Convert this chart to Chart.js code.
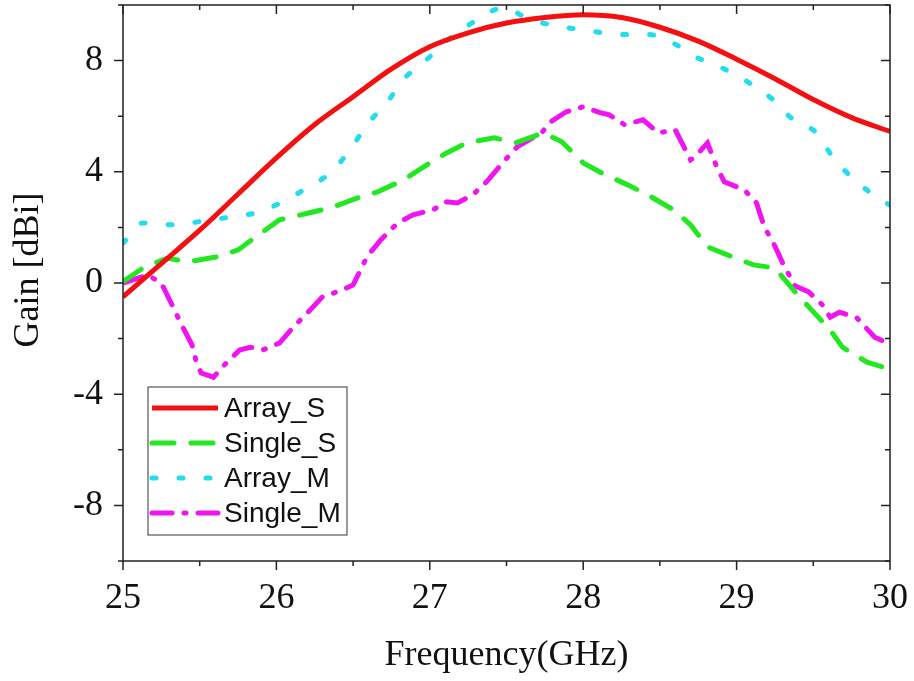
<!DOCTYPE html>
<html>
<head>
<meta charset="utf-8">
<script src="https://cdn.jsdelivr.net/npm/chart.js@4"></script>
<style>
  html, body { margin: 0; padding: 0; background: #fff; }
  #wrap { width: 914px; height: 681px; }
</style>
</head>
<body>
<div id="wrap"><canvas id="myChart" width="914" height="681"></canvas></div>
<script>
// Array_S (solid red)
const arraySFreq = [25, 25.25, 25.5, 25.75, 26, 26.25, 26.5, 26.75, 27, 27.25, 27.5, 27.75, 28, 28.25, 28.5, 28.75, 29, 29.25, 29.5, 29.75, 30];
const arraySGain = [-0.5, 0.7, 1.9, 3.2, 4.5, 5.7, 6.7, 7.7, 8.5, 9.0, 9.35, 9.55, 9.65, 9.55, 9.2, 8.7, 8.05, 7.35, 6.6, 5.95, 5.45];

// Single_S (dashed green)
const singleSFreq = [25, 25.13, 25.29, 25.42, 25.61, 25.75, 25.91, 26.02, 26.21, 26.35, 26.53, 26.66, 26.83, 26.96, 27.11, 27.24, 27.42, 27.56, 27.74, 27.86, 28.0, 28.12, 28.29, 28.42, 28.59, 28.7, 28.81, 28.94, 29.11, 29.25, 29.37, 29.47, 29.61, 29.69, 29.85, 30];
const singleSGain = [0.05, 0.54, 0.9, 0.76, 0.94, 1.19, 1.84, 2.27, 2.52, 2.7, 3.06, 3.28, 3.71, 4.18, 4.68, 5.04, 5.22, 5.04, 5.4, 5.08, 4.32, 3.96, 3.53, 3.17, 2.63, 2.09, 1.3, 1.01, 0.65, 0.54, -0.25, -0.86, -1.69, -2.31, -2.85, -3.1];

// Array_M (dotted cyan)
const arrayMFreq = [25, 25.13, 25.34, 25.52, 25.71, 25.89, 26.04, 26.2, 26.35, 26.48, 26.59, 26.72, 26.84, 26.98, 27.12, 27.29, 27.48, 27.65, 27.85, 28.03, 28.23, 28.42, 28.58, 28.73, 28.9, 29.07, 29.23, 29.37, 29.52, 29.63, 29.77, 29.92, 30];
const arrayMGain = [1.44, 2.16, 2.09, 2.23, 2.38, 2.56, 2.92, 3.42, 3.96, 4.79, 5.69, 6.49, 7.39, 8.04, 8.76, 9.4, 9.9, 9.48, 9.23, 9.08, 8.94, 8.94, 8.65, 8.14, 7.75, 7.24, 6.63, 5.87, 5.4, 4.5, 3.71, 3.06, 2.8];

// Single_M (dash-dot magenta)
const singleMFreq = [25, 25.16, 25.25, 25.39, 25.45, 25.48, 25.51, 25.59, 25.66, 25.76, 25.83, 25.91, 26.02, 26.11, 26.22, 26.3, 26.43, 26.5, 26.59, 26.68, 26.79, 26.89, 27.02, 27.11, 27.18, 27.28, 27.37, 27.48, 27.57, 27.67, 27.72, 27.78, 27.89, 28.0, 28.11, 28.17, 28.27, 28.39, 28.49, 28.6, 28.7, 28.73, 28.81, 28.87, 28.92, 29.05, 29.13, 29.18, 29.24, 29.3, 29.38, 29.47, 29.56, 29.61, 29.67, 29.78, 29.9, 30];
const singleMGain = [0, 0.29, 0, -1.59, -2.23, -2.88, -3.24, -3.39, -2.95, -2.41, -2.31, -2.41, -2.16, -1.59, -0.97, -0.5, -0.25, -0.07, 0.94, 1.55, 2.16, 2.45, 2.63, 2.92, 2.88, 3.17, 3.64, 4.36, 4.9, 5.22, 5.33, 5.77, 6.16, 6.34, 6.13, 6.05, 5.69, 5.87, 5.4, 5.51, 4.43, 4.54, 5.04, 4.18, 3.64, 3.35, 2.88, 2.02, 1.44, 0.72, -0.1, -0.32, -0.79, -1.23, -1.05, -1.23, -1.95, -2.2];

const xTicks = [25, 26, 27, 28, 29, 30];
const yTicks = [-8, -4, 0, 4, 8];

const serif = '"Liberation Serif", "Times New Roman", serif';

function toPoints(xs, ys) {
    return xs.map((x, i) => ({ x: x, y: ys[i] }));
}

// frame with ticks (left/bottom outward, top/right inward), y title and legend box
const framePlugin = {
    id: 'frame',
    afterDraw(chart) {
        const ctx = chart.ctx;
        const a = chart.chartArea;
        const xs = chart.scales.x, ys = chart.scales.y;
        ctx.save();
        ctx.strokeStyle = '#222';
        ctx.lineWidth = 1.5;
        ctx.strokeRect(a.left, a.top, a.right - a.left, a.bottom - a.top);
        ctx.beginPath();
        for (let v = 25; v <= 30.001; v += 0.5) {
            const px = xs.getPixelForValue(v);
            const len = Math.abs(v - Math.round(v)) < 0.01 ? 9 : 5;
            ctx.moveTo(px, a.bottom); ctx.lineTo(px, a.bottom + len);
            ctx.moveTo(px, a.top); ctx.lineTo(px, a.top + len);
        }
        for (let v = -10; v <= 10.001; v += 2) {
            const py = ys.getPixelForValue(v);
            const len = (v % 4 === 0) ? 9 : 5;
            ctx.moveTo(a.left, py); ctx.lineTo(a.left - len, py);
            ctx.moveTo(a.right, py); ctx.lineTo(a.right - len, py);
        }
        ctx.stroke();

        // y axis title
        ctx.save();
        ctx.translate(29, 270);
        ctx.rotate(-Math.PI / 2);
        ctx.font = '36px ' + serif;
        ctx.fillStyle = '#111';
        ctx.textAlign = 'center';
        ctx.textBaseline = 'middle';
        ctx.fillText('Gain [dBi]', 0, 0);
        ctx.restore();

        // legend
        const bx = 148, by = 387, bw = 199, bh = 148;
        ctx.fillStyle = '#fff';
        ctx.fillRect(bx, by, bw, bh);
        ctx.strokeStyle = '#555';
        ctx.lineWidth = 1.2;
        ctx.strokeRect(bx, by, bw, bh);
        const rows = [408, 443, 478, 513];
        ctx.font = '28px "Liberation Sans", Arial, sans-serif';
        ctx.textBaseline = 'middle';
        chart.data.datasets.forEach((ds, i) => {
            ctx.beginPath();
            ctx.strokeStyle = ds.borderColor;
            ctx.lineWidth = ds.borderWidth;
            ctx.lineCap = ds.borderCapStyle || 'butt';
            ctx.setLineDash(ds.borderDash || []);
            ctx.moveTo(152, rows[i]);
            ctx.lineTo(218, rows[i]);
            ctx.stroke();
            ctx.setLineDash([]);
            ctx.fillStyle = '#111';
            ctx.fillText(ds.label, 224, rows[i] + 1);
        });
        ctx.restore();
    }
};

function noPad(s) {
    s.paddingTop = 0;
    s.paddingBottom = 0;
    s.paddingLeft = 0;
    s.paddingRight = 0;
}

const ctx = document.getElementById('myChart').getContext('2d');
const chart = new Chart(ctx, {
    type: 'line',
    data: {
        datasets: [
            {
                label: 'Array_S',
                data: toPoints(arraySFreq, arraySGain),
                borderColor: '#f41010',
                borderWidth: 5,
                cubicInterpolationMode: 'monotone',
                pointRadius: 0
            },
            {
                label: 'Single_S',
                data: toPoints(singleSFreq, singleSGain),
                borderColor: '#22e822',
                borderWidth: 5,
                borderDash: [22, 17],
                borderCapStyle: 'round',
                pointRadius: 0
            },
            {
                label: 'Array_M',
                data: toPoints(arrayMFreq, arrayMGain),
                borderColor: '#22ddee',
                borderWidth: 5,
                borderDash: [4, 23],
                borderCapStyle: 'round',
                cubicInterpolationMode: 'monotone',
                pointRadius: 0
            },
            {
                label: 'Single_M',
                data: toPoints(singleMFreq, singleMGain),
                borderColor: '#f014f0',
                borderWidth: 5,
                borderDash: [20, 12, 2, 12],
                borderCapStyle: 'round',
                pointRadius: 0
            }
        ]
    },
    options: {
        responsive: false,
        animation: false,
        layout: { padding: { top: 5, right: 24, left: 0, bottom: 0 } },
        plugins: {
            legend: { display: false },
            tooltip: { enabled: false }
        },
        scales: {
            x: {
                type: 'linear',
                min: 25,
                max: 30,
                afterBuildTicks: (s) => { s.ticks = xTicks.map(v => ({ value: v })); },
                afterFit: (s) => { s.height = 120; noPad(s); },
                grid: { display: false },
                border: { display: false },
                ticks: {
                    color: '#111',
                    padding: 8,
                    font: { family: serif, size: 36 }
                },
                title: {
                    display: true,
                    text: 'Frequency(GHz)',
                    color: '#111',
                    padding: { top: 8 },
                    font: { family: serif, size: 36 }
                }
            },
            y: {
                min: -10,
                max: 10,
                afterBuildTicks: (s) => { s.ticks = yTicks.map(v => ({ value: v })); },
                afterFit: (s) => { s.width = 123; noPad(s); },
                grid: { display: false },
                border: { display: false },
                ticks: {
                    color: '#111',
                    padding: 12,
                    font: { family: serif, size: 36 }
                },
                title: { display: false }
            }
        }
    },
    plugins: [framePlugin]
});
</script>
</body>
</html>
